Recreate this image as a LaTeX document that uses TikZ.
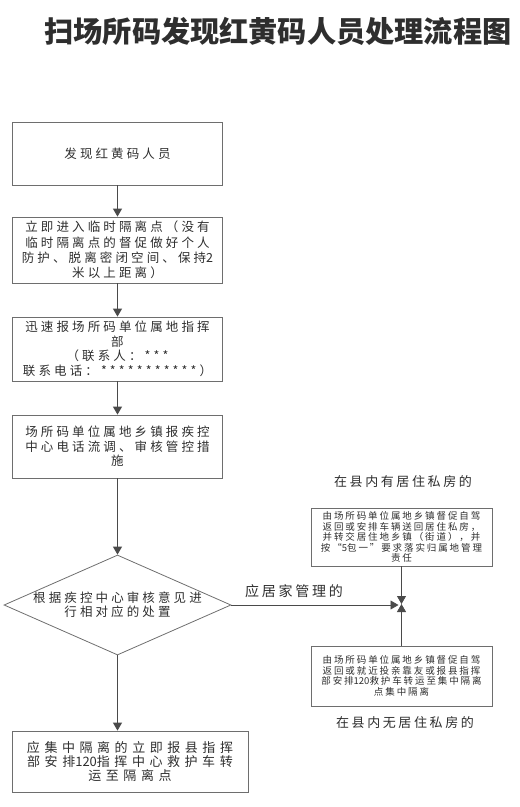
\documentclass[tikz,border=0pt]{standalone}
\usepackage{fontspec}
\setmainfont{Noto Sans CJK SC}
\newfontfamily\cjkwide[LetterSpace=25]{Noto Sans CJK SC}
\newfontfamily\cjkwider[LetterSpace=35]{Noto Sans CJK SC}
\newfontfamily\cjksmall[LetterSpace=20]{Noto Sans CJK SC}
\newfontfamily\cjkplain{Noto Sans CJK SC}
\usetikzlibrary{arrows.meta, shapes.geometric}
\definecolor{boxgray}{HTML}{6E6E6E}
\definecolor{inkgray}{HTML}{2E2E2E}
\definecolor{linegray}{HTML}{4A4A4A}

\begin{document}
\begin{tikzpicture}[>={Triangle[length=8pt,width=9pt]}, x=1pt, y=-1pt,
  stepbox/.style={draw=boxgray, line width=0.8pt, text=inkgray, align=center, inner sep=0pt,
    minimum width=210pt, font=\cjkwide\fontsize{12.5}{14.5}\selectfont},
  sidebox/.style={draw=boxgray, line width=0.8pt, text=inkgray, align=center, inner sep=0pt,
    minimum width=181pt, font=\cjksmall\fontsize{9.5}{10.5}\selectfont},
  decide/.style={diamond, draw=boxgray, line width=0.8pt, inner sep=0pt,
    minimum width=227pt, minimum height=100pt},
  decidetext/.style={text=inkgray, align=center, inner sep=0pt, font=\cjkwide\fontsize{12.5}{14}\selectfont},
  labeltext/.style={text=inkgray, inner sep=0pt, font=\cjksmall\fontsize{13}{15}\selectfont},
  flow/.style={draw=linegray, line width=0.8pt, ->}]

\useasboundingbox (0,0) rectangle (520,807);

%\draw[step=20pt,color=gray!30] (0,0) grid (520,807);

\node[inner sep=0pt, text=inkgray, font=\bfseries\fontsize{29.2}{32}\selectfont] (title) at (278,31) {扫场所码发现红黄码人员处理流程图};

% left column
\node[stepbox, minimum height=63pt] (find) at (117.5,153.5) {发现红黄码人员};
\node[stepbox, minimum height=66pt, font=\cjkwide\fontsize{12.5}{15.3}\selectfont] (isolate) at (117.5,250)
  {立即进入临时隔离点（没有\\临时隔离点的督促做好个人\\防护、脱离密闭空间、保持{\cjkplain 2}\\米以上距离）};
\node[stepbox, minimum height=64pt] (report) at (117.5,349)
  {迅速报场所码单位属地指挥\\部\\（联系人：***\\联系电话：***********）};
\node[stepbox, minimum height=63pt] (town) at (117.5,446.5)
  {场所码单位属地乡镇报疾控\\中心电话流调、审核管控措\\施};
\node[decide, label={[decidetext]center:{根据疾控中心审核意见进\\行相对应的处置}}] (judge) at (117.5,605) {};
\node[stepbox, minimum width=236pt, minimum height=61pt, font=\cjkwider\fontsize{13}{13.8}\selectfont] (final) at (130,761.5)
  {应集中隔离的立即报县指挥\\部安排{\cjkplain 120}指挥中心救护车转\\运至隔离点};

% right column
\node[labeltext] (homelabel) at (403,482) {在县内有居住私房的};
\node[sidebox, minimum height=58pt] (home) at (401.5,537)
  {由场所码单位属地乡镇督促自驾\\返回或安排车辆送回居住私房，\\并转交居住地乡镇（街道），并\\按“{\cjkplain 5}包一”要求落实归属地管理\\责任};
\node[sidebox, minimum height=60pt] (nohome) at (401.5,676)
  {由场所码单位属地乡镇督促自驾\\返回或就近投亲靠友或报县指挥\\部安排{\cjkplain 120}救护车转运至集中隔离\\点集中隔离};
\node[labeltext] (nohomelabel) at (405,723) {在县内无居住私房的};
\coordinate (merge) at (401.5,604);

\node[labeltext, font=\cjksmall\fontsize{14}{16}\selectfont] (homecare) at (294,591) {应居家管理的};

% connectors
\draw[flow] (find) -- (isolate);
\draw[flow] (isolate) -- (report);
\draw[flow] (report) -- (town);
\draw[flow] (town) -- (judge);
\draw[flow] (judge.south) -- (judge.south |- final.north);
\draw[flow, shorten >=3pt] (judge.east) -- (judge.east -| merge);
\draw[flow] (home) -- (merge);
\draw[flow] (nohome) -- (merge);

\end{tikzpicture}
\end{document}
